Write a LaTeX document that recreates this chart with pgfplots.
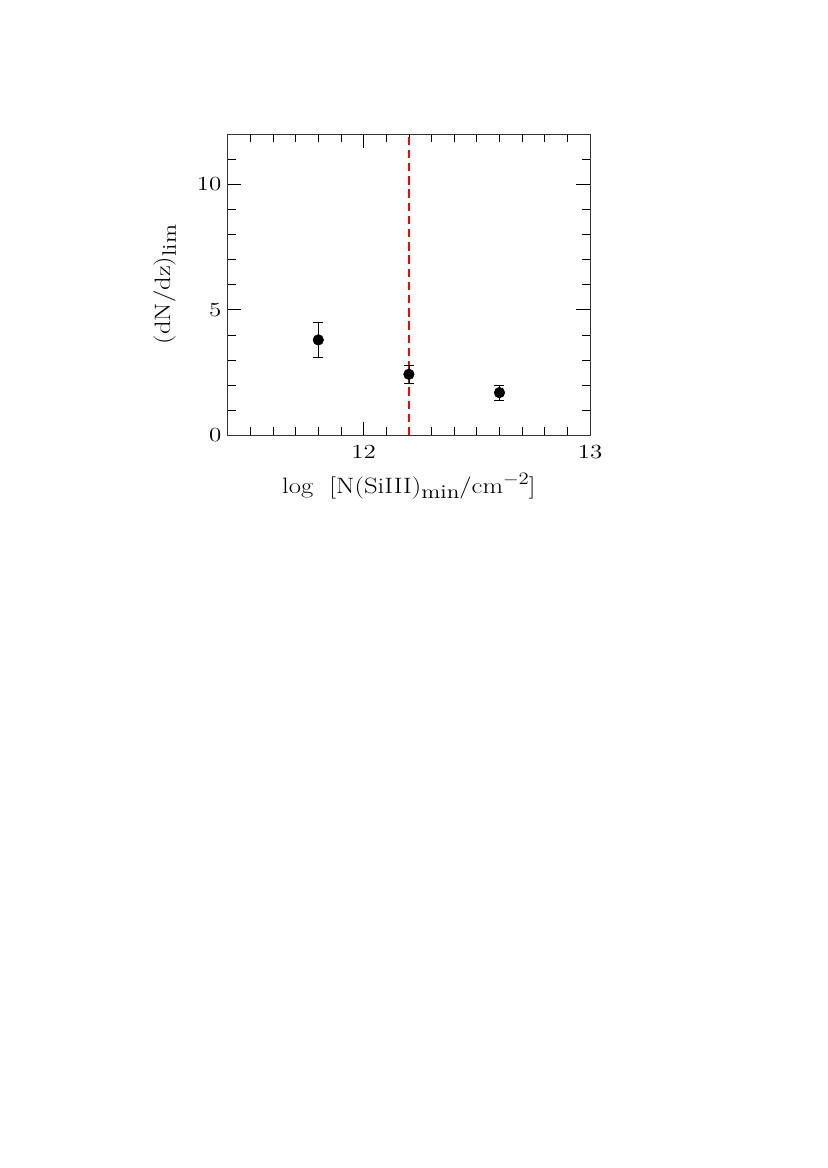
\documentclass[border=0pt]{standalone}
\usepackage{pgfplots}
\pgfplotsset{compat=1.18}
\newcommand{\sub}[1]{\raisebox{-4pt}{\fontsize{14}{16}\selectfont #1}}
\newcommand{\sups}[1]{\raisebox{6.5pt}{\fontsize{12.5}{14}\selectfont #1}}
\newcommand{\wide}[1]{\scalebox{1.2}[1]{#1}}
\begin{document}
\begin{tikzpicture}[x=0.72pt,y=0.72pt]
\path[use as bounding box] (0,0) rectangle (827,1168);
\begin{axis}[
  at={(227.7*0.72pt,732.7*0.72pt)}, anchor=south west,
  scale only axis, width=260.9pt, height=216.9pt,
  xmin=11.4, xmax=13, ymin=0, ymax=12,
  xtick={12,13}, minor xtick={11.5,11.6,11.7,11.8,11.9,12.1,12.2,12.3,12.4,12.5,12.6,12.7,12.8,12.9},
  ytick={0,5,10}, minor ytick={1,2,3,4,6,7,8,9,11},
  tick align=inside, xtick pos=both, ytick pos=both,
  major tick length=9.9pt, minor tick length=6pt,
  every tick/.style={black, line width=0.5pt},
  axis line style={line width=0.6pt, black!80},
  tick label style={font=\fontsize{15}{18}\selectfont},
  xticklabel={\scalebox{1.25}[1]{$\pgfmathprintnumber{\tick}$}},
  yticklabel={\scalebox{1.25}[1]{$\pgfmathprintnumber{\tick}$}},
  xticklabel style={yshift=-4pt},
  yticklabel style={xshift=-1pt},
  label style={font=\fontsize{16}{19}\selectfont},
  xlabel={\wide{log\ \ [N(SiIII)\sub{min}/cm\sups{$-$2}]}},
  ylabel={\wide{(dN/dz)\sub{lim}}},
  xlabel style={at={(axis description cs:0.5,-0.168)}, anchor=center},
  ylabel style={at={(axis description cs:-0.174,0.5)}, anchor=center},
]
\addplot[red, line width=1.5pt, dash pattern=on 6pt off 3.5pt] coordinates {(12.2,0) (12.2,12)};
\addplot[only marks, mark=*, mark size=3.8pt, black,
  error bars/.cd, y dir=both, y explicit,
  error bar style={line width=0.5pt},
  error mark options={rotate=90, mark size=3.6pt, line width=0.5pt}]
  coordinates {
  (11.8,3.8) +- (0,0.7)
  (12.2,2.43) +- (0,0.36)
  (12.6,1.70) +- (0,0.29)
  };
\end{axis}
\end{tikzpicture}
\end{document}
